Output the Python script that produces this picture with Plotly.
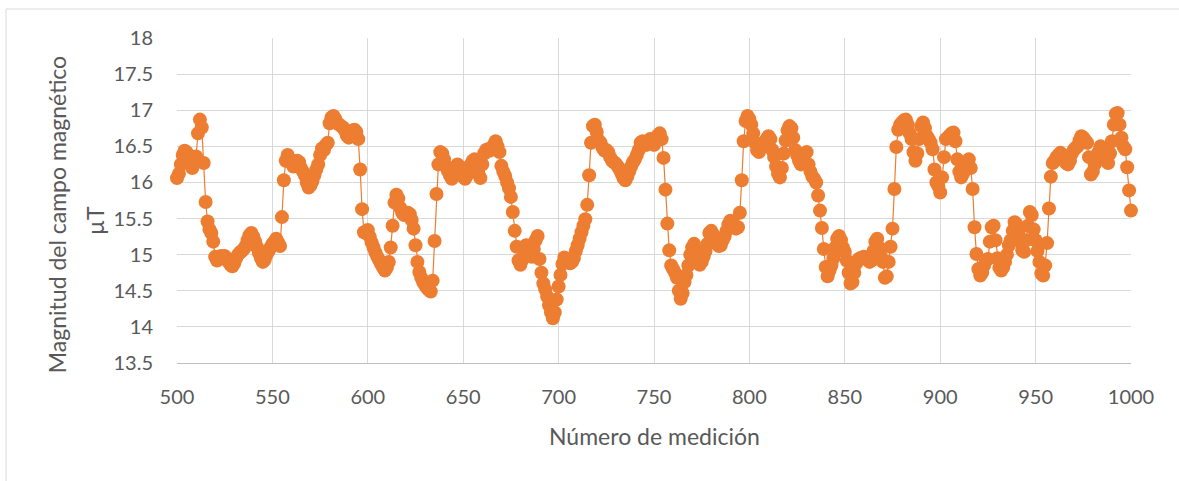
import plotly.graph_objects as go

# Magnetic field magnitude (µT) for measurements 500..1000, one list per block of 100
campo_500 = [
    16.06, 16.12, 16.25, 16.38, 16.44, 16.42, 16.30, 16.25, 16.20, 16.30,
    16.36, 16.68, 16.87, 16.76, 16.27, 15.73, 15.46, 15.35, 15.30, 15.18,
    14.97, 14.92, 14.95, 14.98, 14.97, 14.98, 14.95, 14.90, 14.86, 14.84,
    14.88, 14.95, 15.00, 15.03, 15.05, 15.08, 15.12, 15.20, 15.27, 15.30,
    15.25, 15.18, 15.10, 15.02, 14.95, 14.90, 14.93, 15.00, 15.05, 15.10,
    15.15, 15.18, 15.22, 15.17, 15.12, 15.52, 16.03, 16.30, 16.38, 16.32,
    16.27, 16.22, 16.25, 16.30, 16.28, 16.20, 16.15, 16.10, 16.00, 15.93,
    15.96, 16.02, 16.10, 16.18, 16.25, 16.38, 16.47, 16.45, 16.52, 16.55,
    16.82, 16.90, 16.92, 16.88, 16.82, 16.80, 16.78, 16.76, 16.72, 16.65,
    16.62, 16.65, 16.72, 16.73, 16.70, 16.60, 16.18, 15.63, 15.31, 15.30,
]
campo_600 = [
    15.34, 15.25, 15.17, 15.10, 15.03, 14.97, 14.92, 14.87, 14.82, 14.78,
    14.82, 14.90, 15.10, 15.40, 15.72, 15.83, 15.78, 15.65, 15.58, 15.55,
    15.57, 15.58, 15.56, 15.48, 15.36, 15.13, 14.90, 14.76, 14.68, 14.62,
    14.58, 14.54, 14.51, 14.49, 14.64, 15.19, 15.84, 16.25, 16.42, 16.40,
    16.32, 16.22, 16.16, 16.10, 16.05, 16.12, 16.20, 16.25, 16.22, 16.15,
    16.08, 16.05, 16.10, 16.18, 16.25, 16.30, 16.32, 16.25, 16.12, 16.06,
    16.25, 16.40, 16.45, 16.46, 16.44, 16.48, 16.52, 16.57, 16.50, 16.42,
    16.23, 16.15, 16.09, 16.00, 15.92, 15.80, 15.59, 15.33, 15.11, 14.92,
    14.86, 14.93, 15.05, 15.13, 15.12, 15.02, 14.97, 15.08, 15.20, 15.26,
    14.94, 14.75, 14.60, 14.52, 14.42, 14.30, 14.20, 14.12, 14.20, 14.38,
]
campo_700 = [
    14.56, 14.72, 14.87, 14.96, 14.94, 14.90, 14.88, 14.90, 14.95, 15.05,
    15.13, 15.22, 15.31, 15.40, 15.49, 15.69, 16.10, 16.55, 16.78, 16.80,
    16.70, 16.58, 16.55, 16.48, 16.44, 16.45, 16.42, 16.35, 16.30, 16.28,
    16.26, 16.22, 16.18, 16.12, 16.06, 16.03, 16.08, 16.15, 16.22, 16.28,
    16.32, 16.38, 16.45, 16.55, 16.57, 16.55, 16.52, 16.55, 16.60, 16.58,
    16.52, 16.58, 16.65, 16.68, 16.60, 16.34, 15.90, 15.43, 15.06, 14.85,
    14.80, 14.75, 14.68, 14.50, 14.39, 14.47, 14.62, 14.72, 14.85, 15.00,
    15.10, 15.15, 15.05, 14.92, 14.86, 14.90, 14.97, 15.05, 15.15, 15.30,
    15.33, 15.28, 15.22, 15.15, 15.12, 15.13, 15.20, 15.25, 15.33, 15.42,
    15.47, 15.45, 15.40, 15.36, 15.38, 15.58, 16.03, 16.57, 16.85, 16.92,
]
campo_800 = [
    16.88, 16.80, 16.68, 16.55, 16.45, 16.42, 16.48, 16.52, 16.56, 16.60,
    16.64, 16.60, 16.45, 16.35, 16.22, 16.12, 16.07, 16.20, 16.40, 16.58,
    16.72, 16.78, 16.75, 16.62, 16.45, 16.38, 16.30, 16.25, 16.32, 16.40,
    16.42, 16.25, 16.15, 16.08, 16.05, 16.00, 15.82, 15.61, 15.37, 15.08,
    14.83, 14.70, 14.78, 14.85, 14.95, 15.10, 15.22, 15.26, 15.20, 15.10,
    15.04, 14.92, 14.75, 14.60, 14.62, 14.75, 14.88, 14.93, 14.95, 14.96,
    14.97, 14.95, 14.93, 14.90, 14.92, 15.05, 15.18, 15.22, 15.10, 14.98,
    14.90, 14.68, 14.70, 14.90, 15.11, 15.36, 15.91, 16.49, 16.73, 16.80,
    16.83, 16.86, 16.87, 16.80, 16.68, 16.60, 16.42, 16.30, 16.40, 16.60,
    16.78, 16.83, 16.75, 16.64, 16.60, 16.55, 16.46, 16.18, 16.00, 15.95,
]
campo_900 = [
    15.86, 16.07, 16.35, 16.60, 16.62, 16.65, 16.68, 16.69, 16.57, 16.32,
    16.15, 16.07, 16.12, 16.22, 16.28, 16.32, 16.20, 15.91, 15.38, 15.01,
    14.80, 14.71, 14.75, 14.85, 14.92, 14.94, 15.18, 15.38, 15.40, 15.20,
    14.95, 14.82, 14.78, 14.82, 14.90, 15.00, 15.13, 15.20, 15.33, 15.45,
    15.42, 15.30, 15.18, 15.06, 15.04, 15.20, 15.40, 15.59, 15.55, 15.35,
    15.20, 15.05, 14.90, 14.74, 14.71, 14.85, 15.16, 15.64, 16.08, 16.27,
    16.30, 16.35, 16.38, 16.41, 16.38, 16.33, 16.27, 16.25, 16.30, 16.40,
    16.45, 16.48, 16.50, 16.58, 16.64, 16.62, 16.58, 16.55, 16.35, 16.11,
    16.15, 16.25, 16.35, 16.42, 16.50, 16.48, 16.40, 16.30, 16.27, 16.40,
    16.57, 16.80, 16.95, 16.96, 16.80, 16.62, 16.50, 16.46, 16.21, 15.89,
    15.61,
]

campo = campo_500 + campo_600 + campo_700 + campo_800 + campo_900
medicion = list(range(500, 500 + len(campo)))

x_ticks = [500, 550, 600, 650, 700, 750, 800, 850, 900, 950, 1000]
y_ticks = [13.5, 14, 14.5, 15, 15.5, 16, 16.5, 17, 17.5, 18]

ORANGE = "#ED7D31"
TEXT = "#595959"
GRID = "#D9D9D9"
FONT = "Lato"

fig = go.Figure(
    go.Scatter(
        x=medicion,
        y=campo,
        mode="lines+markers",
        line=dict(color=ORANGE, width=1.2),
        marker=dict(color=ORANGE, size=14),
        cliponaxis=False,
        hoverinfo="x+y",
    )
)

fig.update_layout(
    width=1179,
    height=481,
    margin=dict(l=177, r=48, t=38, b=118),
    paper_bgcolor="white",
    plot_bgcolor="white",
    showlegend=False,
    font=dict(family=FONT, color=TEXT),
)

fig.update_xaxes(
    range=[500, 1000],
    tickvals=x_ticks,
    ticktext=[str(v) for v in x_ticks],
    showgrid=True,
    gridcolor=GRID,
    gridwidth=1,
    zeroline=False,
    showline=True,
    linecolor="#BFBFBF",
    linewidth=1,
    ticks="",
    tickfont=dict(family=FONT, size=20, color=TEXT),
    ticklabelstandoff=16,
)
fig.update_yaxes(
    range=[13.5, 18],
    tickvals=y_ticks,
    ticktext=[f"{v:g}" for v in y_ticks],
    showgrid=True,
    gridcolor=GRID,
    gridwidth=1,
    zeroline=False,
    showline=False,
    ticks="",
    tickfont=dict(family=FONT, size=20, color=TEXT),
    ticklabelstandoff=23,
)

# Axis titles
fig.add_annotation(
    text="Número de medición", xref="paper", yref="paper",
    x=0.5, y=-0.2246, showarrow=False,
    font=dict(family=FONT, size=23, color=TEXT),
    xanchor="center", yanchor="middle",
)
fig.add_annotation(
    text="Magnitud del campo magnético", xref="paper", yref="paper",
    x=-0.1258, y=0.458, showarrow=False, textangle=-90,
    font=dict(family=FONT, size=23, color=TEXT),
    xanchor="center", yanchor="middle",
)
fig.add_annotation(
    text="µT", xref="paper", yref="paper",
    x=-0.0860, y=0.44, showarrow=False, textangle=-90,
    font=dict(family=FONT, size=23, color=TEXT),
    xanchor="center", yanchor="middle",
)

# Chart area frame
fig.add_shape(
    type="rect", xref="paper", yref="paper",
    x0=-0.1792, x1=1.2, y0=-0.6, y1=1.0892,
    line=dict(color=GRID, width=1), layer="below",
)

fig.write_html("out.html")
